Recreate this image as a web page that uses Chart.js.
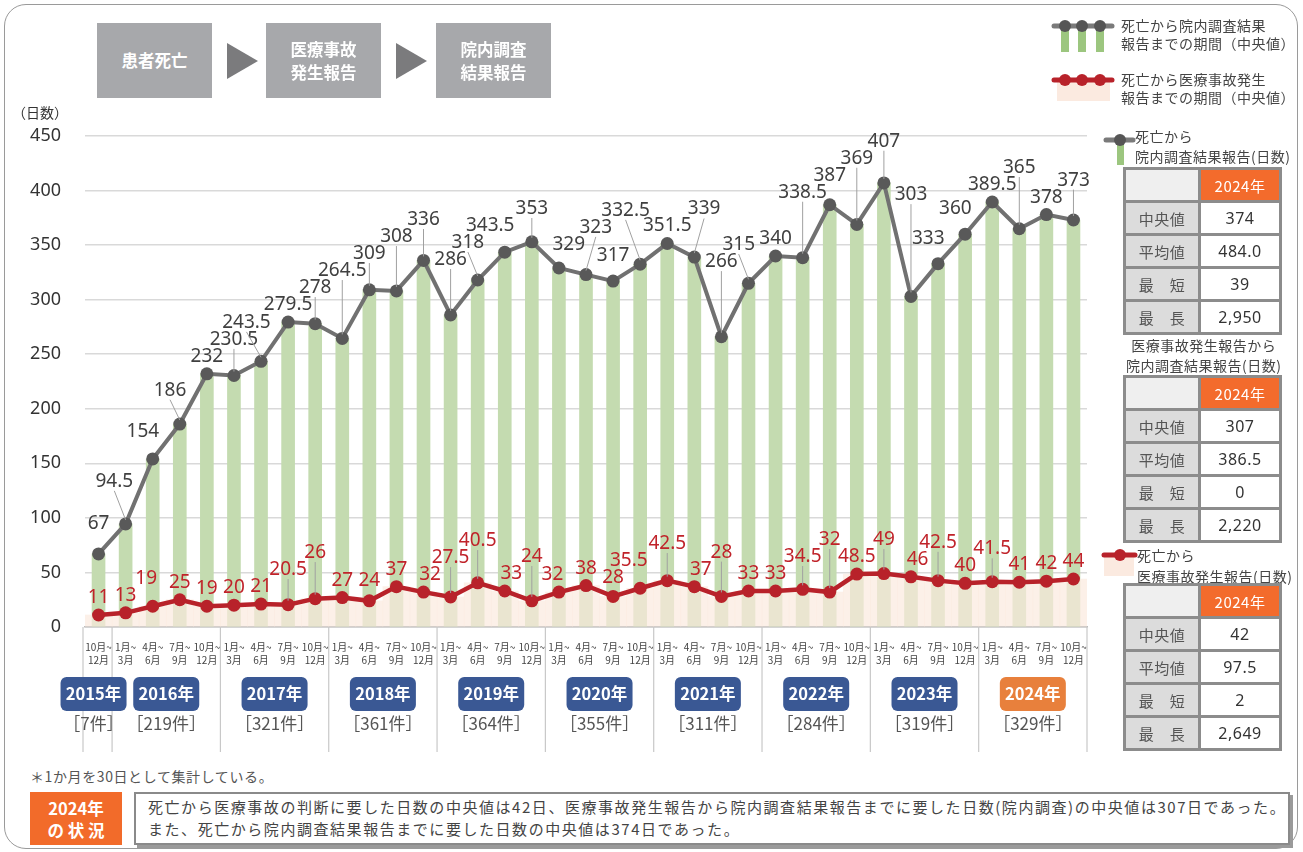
<!DOCTYPE html>
<html lang="ja">
<head>
<meta charset="utf-8">
<script src="https://cdn.jsdelivr.net/npm/chart.js@4.4.1/dist/chart.umd.min.js"></script>
<style>
  body { margin: 0; width: 1303px; height: 852px; background: #fff; position: relative; overflow: hidden;
         font-family: "Noto Sans CJK JP", "Noto Sans", sans-serif; color: #444; }
  .frame { position: absolute; left: 4px; top: 4px; width: 1292px; height: 843px; border: 1.5px solid #9a9a9a; border-radius: 22px; }
  #chart { position: absolute; left: 0; top: 0; }
  .flow { position: absolute; top: 23px; width: 115px; height: 75px; background: #a7a8ab; color: #fff; font-weight: bold;
          font-size: 16.5px; line-height: 23px; display: flex; align-items: center; justify-content: center; text-align: center; }
  .arrow { position: absolute; top: 43px; width: 0; height: 0; border-top: 18px solid transparent; border-bottom: 18px solid transparent;
           border-left: 31px solid #7b7b7d; }
  .unit { position: absolute; left: 12px; top: 102px; font-size: 14px; color: #333; }
  .txt { position: absolute; font-size: 14px; line-height: 18px; color: #444; white-space: nowrap; letter-spacing: 0.5px; }
  table.st { position: absolute; left: 1123px; width: 159px; border-collapse: collapse; border: 3px solid #8c8c8c; }
  table.st td { border: 3px solid #8c8c8c; height: 30px; text-align: center; font-size: 15px; padding: 0; letter-spacing: 0.5px; }
  table.st td.k { background: #dcdcdc; color: #555; width: 72px; }
  table.st td.v { background: #fff; color: #333; font-family: "Noto Sans", sans-serif; font-size: 16px; }
  table.st td.e { background: #efefef; }
  table.st td.h { background: #f36b2c; color: #fff; font-size: 15px; }
  .note { position: absolute; left: 30px; top: 766px; font-size: 14px; color: #555; letter-spacing: 0.6px; }
  .tag { position: absolute; left: 30px; top: 792px; width: 92px; height: 53px; background: #f26b2a; color: #fff; font-weight: bold;
         font-size: 16.5px; line-height: 22px; display: flex; align-items: center; justify-content: center; text-align: center; }
  .sum { position: absolute; left: 134px; top: 792px; width: 1140px; height: 47px; border: 2px solid #8a8a8a; box-shadow: 3px 3px 0 #9a9a9a;
         font-size: 15px; line-height: 22px; color: #444; padding: 2px 0 0 12px; letter-spacing: 1.55px; white-space: nowrap; }
</style>
</head>
<body>
<div class="frame"></div>
<canvas id="chart" width="1100" height="760"></canvas>

<div class="flow" style="left:97px">患者死亡</div>
<div class="arrow" style="left:227px"></div>
<div class="flow" style="left:266px">医療事故<br>発生報告</div>
<div class="arrow" style="left:396px"></div>
<div class="flow" style="left:436px">院内調査<br>結果報告</div>
<div class="unit">（日数）</div>

<!-- legend top right -->
<canvas id="lg" width="240" height="110" style="position:absolute;left:1045px;top:10px"></canvas>
<div class="txt" style="left:1121px;top:16px">死亡から院内調査結果<br>報告までの期間（中央値）</div>
<div class="txt" style="left:1121px;top:70px">死亡から医療事故発生<br>報告までの期間（中央値）</div>

<div class="txt" style="left:1135px;top:126px;line-height:20px">死亡から<br>院内調査結果報告(日数)</div>
<table class="st" style="top:167px">
  <tr><td class="e"></td><td class="h">2024年</td></tr>
  <tr><td class="k">中央値</td><td class="v">374</td></tr>
  <tr><td class="k">平均値</td><td class="v">484.0</td></tr>
  <tr><td class="k">最　短</td><td class="v">39</td></tr>
  <tr><td class="k">最　長</td><td class="v">2,950</td></tr>
</table>

<div class="txt" style="left:1126px;top:335px;line-height:20px;text-align:center">医療事故発生報告から<br>院内調査結果報告(日数)</div>
<table class="st" style="top:375px">
  <tr><td class="e"></td><td class="h">2024年</td></tr>
  <tr><td class="k">中央値</td><td class="v">307</td></tr>
  <tr><td class="k">平均値</td><td class="v">386.5</td></tr>
  <tr><td class="k">最　短</td><td class="v">0</td></tr>
  <tr><td class="k">最　長</td><td class="v">2,220</td></tr>
</table>

<div class="txt" style="left:1137px;top:545px;line-height:21px">死亡から<br>医療事故発生報告(日数)</div>
<table class="st" style="top:583px">
  <tr><td class="e"></td><td class="h">2024年</td></tr>
  <tr><td class="k">中央値</td><td class="v">42</td></tr>
  <tr><td class="k">平均値</td><td class="v">97.5</td></tr>
  <tr><td class="k">最　短</td><td class="v">2</td></tr>
  <tr><td class="k">最　長</td><td class="v">2,649</td></tr>
</table>

<div class="note">＊1か月を30日として集計している。</div>
<div class="tag">2024年<br>の 状 況</div>
<div class="sum">死亡から医療事故の判断に要した日数の中央値は42日、医療事故発生報告から院内調査結果報告までに要した日数(院内調査)の中央値は307日であった。<br>また、死亡から院内調査結果報告までに要した日数の中央値は374日であった。</div>

<script>
// 四半期ラベル
const quarters = [['1月~', '3月'], ['4月~', '6月'], ['7月~', '9月'], ['10月~', '12月']];
const years = ['2015年', '2016年', '2017年', '2018年', '2019年', '2020年', '2021年', '2022年', '2023年', '2024年'];
const yearCounts = [7, 219, 321, 361, 364, 355, 311, 284, 319, 329];

// 死亡から院内調査結果報告までの期間（中央値）
const deathToReport = [67, 94.5, 154, 186, 232, 230.5, 243.5, 279.5, 278, 264.5, 309, 308, 336, 286, 318, 343.5,
  353, 329, 323, 317, 332.5, 351.5, 339, 266, 315, 340, 338.5, 387, 369, 407, 303, 333, 360, 389.5, 365, 378, 373];
// 死亡から医療事故発生報告までの期間（中央値）
const deathToAccident = [11, 13, 19, 25, 19, 20, 21, 20.5, 26, 27, 24, 37, 32, 27.5, 40.5, 33,
  24, 32, 38, 28, 35.5, 42.5, 37, 28, 33, 33, 34.5, 32, 48.5, 49, 46, 42.5, 40, 41.5, 41, 42, 44];

// 2015年は10月~12月のみ
const categories = [quarters[3]];
for (let y = 1; y < years.length; y++) quarters.forEach(q => categories.push(q));

// 年ごとの区切り（最初と最後のインデックス）
const yearRanges = years.map((y, i) => i === 0 ? [0, 0] : [1 + (i - 1) * 4, 4 + (i - 1) * 4]);

const grayLine = '#717171';
const redLine = '#b8222a';

// 線の y 座標（画面上）を x で補間
function lineY(pts, x) {
  if (x <= pts[0].x) return pts[0].y;
  for (let i = 1; i < pts.length; i++) {
    if (x <= pts[i].x) {
      const t = (x - pts[i - 1].x) / (pts[i].x - pts[i - 1].x);
      return pts[i - 1].y + t * (pts[i].y - pts[i - 1].y);
    }
  }
  return pts[pts.length - 1].y;
}

function drawLabels(ctx, pts, values, color) {
  const placed = [];
  const h = 14;
  pts.forEach((p, i) => {
    const text = String(values[i]);
    const w = ctx.measureText(text).width;
    const prev = pts[i - 1], next = pts[i + 1];
    let dx = 0;
    if (prev && next) {
      if (next.y < p.y - 3 && prev.y > p.y + 3) dx = -w * 0.3;
      else if (next.y > p.y + 3 && prev.y < p.y - 3) dx = w * 0.3;
    }
    const cx = p.x + dx;
    const x0 = cx - w / 2 - 5, x1 = cx + w / 2 + 5;
    let top = Math.min(lineY(pts, x0), lineY(pts, x1));
    pts.forEach(q => { if (q.x > x0 && q.x < x1) top = Math.min(top, q.y); });
    let base = Math.min(p.y - 12, top - 7);
    placed.forEach(b => {
      if (cx - w / 2 < b.x1 + 4 && cx + w / 2 > b.x0 - 4 && base > b.top - 1 && base - h < b.base + 1) base = b.top - 3;
    });
    placed.push({ x0: cx - w / 2, x1: cx + w / 2, base: base, top: base - h });
    if (p.y - base > 26) {
      ctx.strokeStyle = '#a0a0a0';
      ctx.lineWidth = 1;
      ctx.beginPath();
      ctx.moveTo(cx, base + 4);
      ctx.lineTo(p.x, p.y - 4);
      ctx.stroke();
    }
    ctx.fillStyle = color;
    ctx.fillText(text, cx, base);
  });
}

const valueLabels = {
  id: 'valueLabels',
  afterDatasetsDraw(chart) {
    const ctx = chart.ctx;
    ctx.save();
    ctx.textAlign = 'center';
    ctx.textBaseline = 'alphabetic';
    ctx.font = '19px "Noto Sans"';
    drawLabels(ctx, chart.getDatasetMeta(2).data, deathToReport, '#404040');
    drawLabels(ctx, chart.getDatasetMeta(3).data, deathToAccident, '#c0232a');
    ctx.restore();
  }
};

const yearAxis = {
  id: 'yearAxis',
  afterDraw(chart) {
    const ctx = chart.ctx;
    const x = chart.scales.x;
    const half = (x.getPixelForValue(1) - x.getPixelForValue(0)) / 2;
    const top = chart.chartArea.bottom;
    ctx.save();
    ctx.strokeStyle = '#c8c8c8';
    ctx.lineWidth = 1.2;
    const edges = [x.getPixelForValue(0) - half - 2];
    yearRanges.forEach(r => edges.push(x.getPixelForValue(r[1]) + half));
    edges.forEach(e => {
      ctx.beginPath();
      ctx.moveTo(e, top);
      ctx.lineTo(e, 752);
      ctx.stroke();
    });
    yearRanges.forEach((r, i) => {
      let cx = (x.getPixelForValue(r[0]) + x.getPixelForValue(r[1])) / 2;
      if (i === 0) cx -= 5;
      const w = 66, h = 34;
      ctx.fillStyle = i === years.length - 1 ? '#e8803c' : '#3a5894';
      ctx.beginPath();
      ctx.roundRect(cx - w / 2, 677, w, h, 6);
      ctx.fill();
      ctx.fillStyle = '#fff';
      ctx.font = 'bold 16.5px "Noto Sans CJK JP"';
      ctx.textAlign = 'center';
      ctx.textBaseline = 'middle';
      ctx.fillText(years[i], cx, 694);
      ctx.fillStyle = '#555';
      ctx.font = '17px "Noto Sans CJK JP"';
      ctx.fillText('［' + yearCounts[i] + '件］', cx, 724);
    });
    ctx.restore();
  }
};

new Chart(document.getElementById('chart'), {
  data: {
    labels: categories,
    datasets: [{
      type: 'bar',
      data: deathToAccident,
      backgroundColor: 'rgba(251, 234, 222, 0.7)',
      barPercentage: 1,
      categoryPercentage: 1,
      grouped: false,
      order: 3
    }, {
      type: 'bar',
      data: deathToReport,
      backgroundColor: '#c4dbb0',
      barThickness: 13,
      grouped: false,
      order: 4
    }, {
      type: 'line',
      data: deathToReport,
      borderColor: grayLine,
      borderWidth: 4,
      pointRadius: 6.5,
      pointBackgroundColor: '#595959',
      pointBorderWidth: 0,
      order: 1
    }, {
      type: 'line',
      data: deathToAccident,
      borderColor: redLine,
      borderWidth: 4.5,
      pointRadius: 6.5,
      pointBackgroundColor: redLine,
      pointBorderWidth: 0,
      order: 0
    }]
  },
  options: {
    responsive: false,
    animation: false,
    layout: { padding: { top: 136, right: 13, left: 0, bottom: 0 } },
    plugins: { legend: { display: false }, tooltip: { enabled: false } },
    scales: {
      x: {
        grid: { display: false },
        border: { color: '#bdbdbd', width: 1.5 },
        ticks: { autoSkip: false, maxRotation: 0, minRotation: 0, padding: 6,
                 color: '#444', font: { size: 10, family: '"Noto Sans CJK JP"', lineHeight: 1.3 } },
        afterFit(s) { s.height = 133; }
      },
      y: {
        min: 0, max: 450,
        grid: { color: '#d9d9d9', lineWidth: 1.5, drawTicks: false },
        border: { display: false },
        ticks: { stepSize: 50, padding: 24, color: '#333', font: { size: 18, family: '"Noto Sans"' } },
        afterFit(s) { s.width = 85; }
      }
    }
  },
  plugins: [valueLabels, yearAxis]
});

// 凡例のアイコン
const lg = document.getElementById('lg').getContext('2d');
function icon(yLine, color, dot, under) {
  const xs = [20, 37, 55];
  if (under === 'bars') {
    lg.fillStyle = '#9cc67f';
    xs.forEach(x => lg.fillRect(x - 4, yLine, 8, 26));
  } else {
    lg.fillStyle = '#fbeae0';
    lg.fillRect(12, yLine, 53, 21);
  }
  lg.strokeStyle = color;
  lg.lineWidth = 5;
  lg.lineCap = 'round';
  lg.beginPath(); lg.moveTo(9, yLine); lg.lineTo(67, yLine); lg.stroke();
  lg.fillStyle = dot;
  xs.forEach(x => { lg.beginPath(); lg.arc(x, yLine, 6, 0, Math.PI * 2); lg.fill(); });
}
icon(16, '#7a7a7a', '#555', 'bars');
icon(70, '#b8222a', '#b8222a', 'beige');

// 右パネルの小アイコン
const small = document.createElement('canvas');
small.width = 40; small.height = 460;
small.style.cssText = 'position:absolute;left:1100px;top:125px';
document.body.appendChild(small);
const s = small.getContext('2d');
s.fillStyle = '#9cc67f'; s.fillRect(17, 15, 7, 25);
s.strokeStyle = '#7a7a7a'; s.lineWidth = 5; s.lineCap = 'round';
s.beginPath(); s.moveTo(6, 15); s.lineTo(33, 15); s.stroke();
s.fillStyle = '#555'; s.beginPath(); s.arc(20, 15, 6, 0, Math.PI * 2); s.fill();
s.fillStyle = '#fbeae0'; s.fillRect(4, 430, 30, 21);
s.strokeStyle = '#b8222a'; s.beginPath(); s.moveTo(4, 430); s.lineTo(35, 430); s.stroke();
s.fillStyle = '#b8222a'; s.beginPath(); s.arc(20, 430, 6, 0, Math.PI * 2); s.fill();
</script>
</body>
</html>
